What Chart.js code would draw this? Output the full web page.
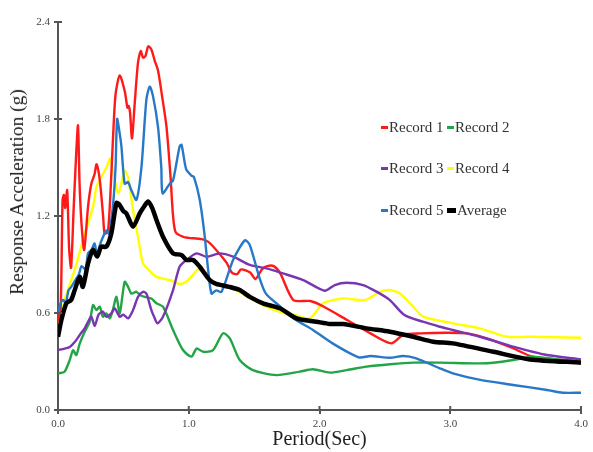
<!DOCTYPE html>
<html><head><meta charset="utf-8">
<script src="https://cdn.jsdelivr.net/npm/chart.js@4.4.0/dist/chart.umd.min.js"></script>
<style>
html,body{margin:0;padding:0;background:#fff;}
#wrap{position:relative;width:593px;height:452px;overflow:hidden;}
canvas{position:absolute;left:0;top:0;}
.lg{position:absolute;font-family:"Liberation Serif","Times New Roman",serif;font-size:15px;color:#333;line-height:16px;white-space:nowrap;display:flex;align-items:center;}
.mk{display:inline-block;width:7px;height:3px;margin-right:1px;}
#ytitle{position:absolute;left:17px;top:192px;transform:translate(-50%,-50%) rotate(-90deg);font-family:"Liberation Serif","Times New Roman",serif;font-size:19.5px;color:#222;white-space:nowrap;}
</style>
</head><body>
<div id="wrap">
<canvas id="c" width="593" height="452"></canvas>
<div id="ytitle">Response Acceleration (g)</div>
<div id="legend"></div>
</div>
<script>
// ---- data ----
const seriesNames = ["Record 1","Record 2","Record 3","Record 4","Record 5","Average"];
const seriesColors = ["#ff1a1a","#22a447","#7a35b0","#ffff00","#2878c8","#000000"];

const rec1X = [0,0.02,0.035,0.045,0.055,0.07,0.085,0.10,0.12,0.14,0.153,0.165,0.18,0.20,0.23,0.255,0.28,0.295,0.32,0.345,0.357,0.383,0.408,0.42,0.44,0.472,0.511,0.531,0.541,0.551,0.566,0.587,0.612,0.633,0.65,0.669,0.69,0.714,0.74,0.765,0.80,0.83,0.86,0.88,0.90,0.96,1.0,1.1,1.15,1.21,1.29,1.33,1.37,1.40,1.47,1.51,1.56,1.60,1.65,1.70,1.80,1.93,2.03,2.21,2.39,2.55,2.64,2.77,2.97,3.13,3.28,3.48,3.63,4.0];
const rec1Y = [0.55,0.62,1.30,1.33,1.25,1.36,1.00,0.88,1.25,1.60,1.76,1.40,1.15,0.99,1.26,1.40,1.46,1.52,1.42,1.20,1.09,1.11,1.46,1.67,1.95,2.07,1.97,1.87,1.88,1.84,1.68,1.90,2.15,2.22,2.18,2.19,2.25,2.23,2.16,2.10,1.92,1.75,1.45,1.20,1.10,1.07,1.065,1.057,1.04,0.99,0.91,0.85,0.84,0.87,0.85,0.81,0.87,0.89,0.89,0.845,0.68,0.674,0.64,0.557,0.474,0.412,0.464,0.474,0.478,0.474,0.443,0.382,0.33,0.30];

const rec2X = [0,0.05,0.09,0.115,0.14,0.166,0.204,0.243,0.268,0.294,0.319,0.344,0.37,0.396,0.42,0.447,0.472,0.51,0.536,0.561,0.60,0.63,0.663,0.714,0.753,0.803,0.88,0.956,1.02,1.06,1.11,1.186,1.262,1.314,1.39,1.49,1.67,1.85,1.95,2.08,2.21,2.36,2.54,2.72,2.92,3.28,3.48,3.63,3.8,4.0];
const rec2Y = [0.227,0.237,0.31,0.37,0.34,0.41,0.484,0.546,0.649,0.618,0.639,0.577,0.598,0.567,0.62,0.70,0.598,0.793,0.762,0.72,0.731,0.71,0.70,0.69,0.66,0.639,0.495,0.371,0.33,0.38,0.36,0.371,0.474,0.443,0.309,0.247,0.216,0.237,0.252,0.231,0.247,0.268,0.283,0.293,0.293,0.289,0.309,0.33,0.315,0.299];

const rec3X = [0,0.05,0.09,0.128,0.166,0.204,0.23,0.255,0.281,0.31,0.344,0.37,0.408,0.434,0.472,0.50,0.536,0.574,0.612,0.65,0.676,0.714,0.74,0.76,0.803,0.88,0.93,0.982,1.06,1.135,1.237,1.34,1.467,1.594,1.72,1.875,2.04,2.117,2.207,2.334,2.436,2.538,2.65,2.79,2.92,3.02,3.226,3.48,3.74,4.0];
const rec3Y = [0.371,0.38,0.39,0.42,0.464,0.505,0.546,0.577,0.52,0.59,0.608,0.577,0.598,0.629,0.577,0.59,0.567,0.618,0.70,0.731,0.72,0.618,0.567,0.536,0.577,0.742,0.886,0.928,0.969,0.948,0.969,0.948,0.897,0.876,0.845,0.804,0.738,0.773,0.787,0.773,0.732,0.68,0.587,0.546,0.515,0.495,0.453,0.392,0.34,0.313];

const rec4X = [0,0.05,0.10,0.14,0.19,0.23,0.268,0.294,0.33,0.37,0.40,0.42,0.46,0.49,0.51,0.536,0.574,0.612,0.65,0.70,0.753,0.855,0.93,0.98,1.03,1.07,1.10,1.16,1.25,1.34,1.45,1.59,1.70,1.80,1.926,2.028,2.18,2.347,2.46,2.538,2.614,2.716,2.793,3.02,3.226,3.43,3.61,4.0];
const rec4Y = [0.495,0.68,0.80,0.90,1.05,1.155,1.257,1.38,1.44,1.50,1.556,1.48,1.34,1.42,1.48,1.44,1.237,1.07,0.907,0.86,0.824,0.804,0.78,0.793,0.835,0.87,0.86,0.80,0.77,0.75,0.70,0.64,0.605,0.59,0.567,0.66,0.69,0.68,0.73,0.742,0.72,0.639,0.577,0.536,0.505,0.453,0.453,0.447];

const rec5X = [0,0.02,0.04,0.06,0.08,0.10,0.13,0.16,0.18,0.21,0.23,0.255,0.28,0.30,0.32,0.344,0.37,0.39,0.42,0.44,0.452,0.47,0.485,0.51,0.536,0.561,0.60,0.638,0.676,0.702,0.727,0.765,0.79,0.80,0.855,0.88,0.93,0.945,0.98,1.02,1.04,1.084,1.12,1.148,1.174,1.21,1.25,1.34,1.43,1.467,1.54,1.59,1.70,1.80,1.95,2.10,2.30,2.39,2.54,2.64,2.74,2.92,3.02,3.23,3.48,3.74,3.86,4.0];
const rec5Y = [0.60,0.66,0.68,0.66,0.74,0.76,0.80,0.84,0.89,0.87,0.97,0.99,1.03,0.95,1.02,1.07,1.11,1.09,1.26,1.50,1.80,1.72,1.63,1.40,1.41,1.36,1.30,1.50,1.92,2.00,1.94,1.75,1.50,1.34,1.40,1.42,1.63,1.64,1.49,1.45,1.44,1.30,1.09,0.87,0.72,0.74,0.73,0.93,1.05,1.02,0.82,0.72,0.64,0.567,0.495,0.412,0.326,0.334,0.323,0.334,0.32,0.258,0.227,0.186,0.155,0.124,0.107,0.107];

const avgX = [0,0.026,0.064,0.10,0.128,0.166,0.19,0.23,0.268,0.30,0.33,0.37,0.408,0.447,0.47,0.50,0.523,0.574,0.625,0.66,0.689,0.72,0.753,0.803,0.88,0.944,0.982,1.033,1.084,1.16,1.21,1.31,1.39,1.467,1.568,1.696,1.824,1.977,2.08,2.18,2.36,2.538,2.716,2.87,3.02,3.33,3.61,4.0];
const avgY = [0.453,0.557,0.66,0.68,0.742,0.824,0.762,0.907,0.99,0.95,1.01,1.01,1.093,1.28,1.27,1.23,1.216,1.134,1.216,1.26,1.29,1.25,1.175,1.072,0.969,0.959,0.928,0.928,0.886,0.804,0.78,0.762,0.742,0.70,0.66,0.629,0.567,0.546,0.532,0.532,0.505,0.484,0.453,0.422,0.412,0.36,0.313,0.293];

const xTicks = [0,1,2,3,4];
const yTicks = [0,0.6,1.2,1.8,2.4];
// ---------------

const allX = [rec1X,rec2X,rec3X,rec4X,rec5X,avgX];
const allY = [rec1Y,rec2Y,rec3Y,rec4Y,rec5Y,avgY];

const datasets = seriesNames.map((name,i)=>({
  label:name,
  data: allX[i].map((x,j)=>({x:x,y:allY[i][j]})),
  borderColor: seriesColors[i],
  backgroundColor: seriesColors[i],
  borderWidth: i===5 ? 4.5 : 2.4,
  pointRadius:0,
  tension:0.25,
  fill:false,
  order: i===5 ? 0 : (i===3 ? 6 : 6-i)
}));

const crossTicks = {
  id:'crossTicks',
  afterDraw(chart){
    const {ctx, chartArea, scales} = chart;
    ctx.save();
    ctx.strokeStyle = '#555'; ctx.lineWidth = 2;
    scales.x.ticks.forEach(t=>{
      const px = scales.x.getPixelForValue(t.value);
      ctx.beginPath(); ctx.moveTo(px, chartArea.bottom); ctx.lineTo(px, chartArea.bottom-4); ctx.stroke();
    });
    scales.y.ticks.forEach(t=>{
      const py = scales.y.getPixelForValue(t.value);
      ctx.beginPath(); ctx.moveTo(chartArea.left, py); ctx.lineTo(chartArea.left+4, py); ctx.stroke();
    });
    ctx.restore();
  }
};

const serif = '"Liberation Serif","Times New Roman",serif';
new Chart(document.getElementById('c'), {
  type:'line',
  data:{datasets},
  options:{
    responsive:false, animation:false, devicePixelRatio:1,
    layout:{padding:{top:22,right:12,left:0,bottom:0}},
    plugins:{legend:{display:false}, tooltip:{enabled:false}},
    scales:{
      x:{
        type:'linear', min:0, max:4,
        afterBuildTicks(s){ s.ticks = xTicks.map(v=>({value:v})); },
        afterFit(s){ s.height = 42; },
        ticks:{callback:v=>Number(v).toFixed(1), font:{family:serif,size:11}, color:'#444', padding:4, maxRotation:0},
        grid:{drawOnChartArea:false, drawTicks:true, tickLength:4, color:'#555', lineWidth:2},
        border:{display:true, color:'#555', width:2},
        title:{display:true, text:'Period(Sec)', font:{family:serif,size:20}, color:'#222', padding:{top:0,bottom:0}}
      },
      y:{
        type:'linear', min:0, max:2.4,
        afterBuildTicks(s){ s.ticks = yTicks.map(v=>({value:v})); },
        afterFit(s){ s.width = 58; },
        ticks:{callback:v=>Number(v).toFixed(1), font:{family:serif,size:11}, color:'#444', padding:4},
        grid:{drawOnChartArea:false, drawTicks:true, tickLength:4, color:'#555', lineWidth:2},
        border:{display:true, color:'#555', width:2}
      }
    }
  },
  plugins:[crossTicks]
});

// legend (HTML)
const legendPos = [[381,127],[447,127],[381,168],[447,168],[381,210],[447,210]];
const lg = document.getElementById('legend');
seriesNames.forEach((n,i)=>{
  const d = document.createElement('div');
  d.className='lg';
  d.style.left = legendPos[i][0]+'px';
  d.style.top = (legendPos[i][1]-8)+'px';
  const m = document.createElement('span');
  m.className='mk';
  m.style.background = seriesColors[i];
  if(i===5){ m.style.height='5px'; m.style.width='9px'; }
  d.appendChild(m);
  d.appendChild(document.createTextNode(n));
  lg.appendChild(d);
});
</script>
</body></html>
